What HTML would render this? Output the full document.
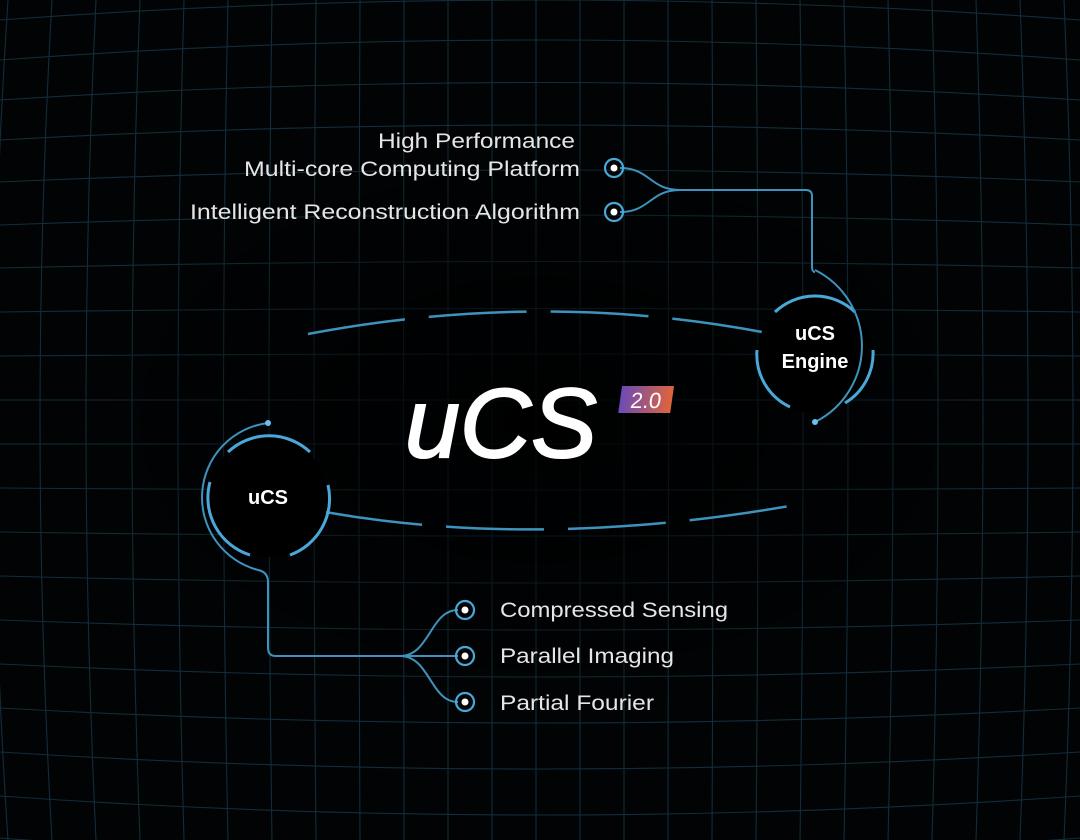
<!DOCTYPE html>
<html><head><meta charset="utf-8"><style>
html,body{margin:0;padding:0;background:#000;}
svg{display:block}
text{font-family:"Liberation Sans",sans-serif;}
</style></head><body>
<svg width="1080" height="840" viewBox="0 0 1080 840" xmlns="http://www.w3.org/2000/svg">
<defs>
<linearGradient id="bg" x1="0" x2="1"><stop offset="0" stop-color="#6b4bb8"/><stop offset="1" stop-color="#e0643a"/></linearGradient>
<radialGradient id="fade" cx="0.5" cy="0.5" r="0.5"><stop offset="0" stop-color="#000" stop-opacity="0.9"/><stop offset="0.6" stop-color="#000" stop-opacity="0.4"/><stop offset="1" stop-color="#000" stop-opacity="0"/></radialGradient>
</defs>
<rect width="1080" height="840" fill="#010305"/>
<g stroke="#1e4a5c" stroke-width="1.1" fill="none" opacity="0.6">
<path d="M0,20 Q540,-20 1080,20"/>
<path d="M0,60 Q540,20 1080,60"/>
<path d="M0,100 Q540,65 1080,100"/>
<path d="M0,140 Q540,110 1080,140"/>
<path d="M0,182 Q540,158 1080,182"/>
<path d="M0,225 Q540,205 1080,225"/>
<path d="M0,268 Q540,255 1080,268"/>
<path d="M0,312 Q540,305 1080,312"/>
<path d="M0,356 Q540,352 1080,356"/>
<path d="M0,400 L1080,400"/>
<path d="M0,444 L1080,444"/>
<path d="M0,488 Q540,492 1080,488"/>
<path d="M0,532 Q540,540 1080,532"/>
<path d="M0,576 Q540,590 1080,576"/>
<path d="M0,620 Q540,640 1080,620"/>
<path d="M0,664 Q540,690 1080,664"/>
<path d="M0,708 Q540,738 1080,708"/>
<path d="M0,752 Q540,786 1080,752"/>
<path d="M0,796 Q540,834 1080,796"/>
<path d="M0,838 Q540,880 1080,838"/>
<path d="M8,0 Q-20,420 8,840"/>
<path d="M52,0 Q28,420 52,840"/>
<path d="M96,0 Q76,420 96,840"/>
<path d="M140,0 Q124,420 140,840"/>
<path d="M184,0 Q172,420 184,840"/>
<path d="M228,0 Q219,420 228,840"/>
<path d="M272,0 Q266,420 272,840"/>
<path d="M316,0 Q312,420 316,840"/>
<path d="M360,0 Q358,420 360,840"/>
<path d="M404,0 Q403,420 404,840"/>
<path d="M448,0 L448,840"/>
<path d="M492,0 L492,840"/>
<path d="M536,0 L536,840"/>
<path d="M580,0 L580,840"/>
<path d="M624,0 L624,840"/>
<path d="M668,0 Q669,420 668,840"/>
<path d="M712,0 Q714,420 712,840"/>
<path d="M756,0 Q760,420 756,840"/>
<path d="M800,0 Q806,420 800,840"/>
<path d="M844,0 Q852,420 844,840"/>
<path d="M888,0 Q898,420 888,840"/>
<path d="M932,0 Q944,420 932,840"/>
<path d="M976,0 Q990,420 976,840"/>
<path d="M1020,0 Q1036,420 1020,840"/>
<path d="M1064,0 Q1082,420 1064,840"/>
</g>
<ellipse cx="540" cy="420" rx="480" ry="300" fill="url(#fade)"/>
<!-- ellipse arcs -->
<g fill="none" stroke="#3e93bd" stroke-width="2.5" stroke-dasharray="98 24">
<path d="M308,334 Q540,290 762,332"/>
<path d="M325,512 Q540,550 795,505"/>
</g>
<!-- Engine circle -->
<circle cx="815" cy="355" r="58" fill="#000"/>
<g fill="none" stroke="#4aa8d8" stroke-width="3">
<path d="M775,312 A58,58 0 0 1 855,312"/>
<path d="M757,350 A58,58 0 0 0 790,407"/>
<path d="M873,350 A58,58 0 0 1 845,403"/>
</g>
<path d="M815,270 A85,85 0 0 1 815,422" fill="none" stroke="#3e93bd" stroke-width="2"/>
<circle cx="815" cy="422" r="3" fill="#6cc0ea"/>
<path d="M815,272 Q812,272 812,266 L812,196 Q812,190 806,190 L680,190 C650,190 650,168 620,168 M680,190 C650,190 650,212 620,212" fill="none" stroke="#3e93bd" stroke-width="2"/>
<text x="815" y="340" fill="#fff" font-size="20" font-weight="bold" text-anchor="middle">uCS</text>
<text x="815" y="368" fill="#fff" font-size="20" font-weight="bold" text-anchor="middle">Engine</text>
<!-- uCS circle -->
<circle cx="268" cy="497" r="60" fill="#000"/>
<g fill="none" stroke="#4aa8d8" stroke-width="3">
<path d="M228,452 A60,60 0 0 1 310,452"/>
<path d="M210,482 A60,60 0 0 0 250,555"/>
<path d="M328,485 A60,60 0 0 1 290,555"/>
</g>
<path d="M268,423 A75,75 0 0 0 258,570" fill="none" stroke="#3e93bd" stroke-width="2"/>
<circle cx="268" cy="423" r="3" fill="#6cc0ea"/>
<path d="M258,570 Q268,572 268,582 L268,648 Q268,656 276,656 L400,656 C430,656 430,610 458,610 M400,656 L458,656 M400,656 C430,656 430,702 458,702" fill="none" stroke="#3e93bd" stroke-width="2"/>
<text x="268" y="504" fill="#fff" font-size="20" font-weight="bold" text-anchor="middle">uCS</text>
<!-- dots -->
<g fill="none" stroke="#4aa8d8" stroke-width="2.2">
<circle cx="614" cy="168" r="9"/><circle cx="614" cy="212" r="9"/>
<circle cx="465" cy="610" r="9"/><circle cx="465" cy="656" r="9"/><circle cx="465" cy="702" r="9"/>
</g>
<g fill="#fff">
<circle cx="614" cy="168" r="3.5"/><circle cx="614" cy="212" r="3.5"/>
<circle cx="465" cy="610" r="3.5"/><circle cx="465" cy="656" r="3.5"/><circle cx="465" cy="702" r="3.5"/>
</g>
<g fill="#e6e6e6" font-size="21">
<text x="378" y="148" textLength="197" lengthAdjust="spacingAndGlyphs">High Performance</text>
<text x="244" y="176" textLength="336" lengthAdjust="spacingAndGlyphs">Multi-core Computing Platform</text>
<text x="190" y="219" textLength="390" lengthAdjust="spacingAndGlyphs">Intelligent Reconstruction Algorithm</text>
<text x="500" y="617" textLength="228" lengthAdjust="spacingAndGlyphs">Compressed Sensing</text>
<text x="500" y="663" textLength="174" lengthAdjust="spacingAndGlyphs">Parallel Imaging</text>
<text x="500" y="710" textLength="154" lengthAdjust="spacingAndGlyphs">Partial Fourier</text>
</g>
<!-- logo -->
<text x="405" y="457" fill="#fff" stroke="#fff" stroke-width="2" font-size="98" font-style="italic" textLength="192" lengthAdjust="spacingAndGlyphs">uCS</text>
<g transform="translate(622,386) skewX(-8)">
<rect width="52" height="27" fill="url(#bg)"/>
<text x="26" y="22" fill="#fff" font-size="22" text-anchor="middle">2.0</text>
</g>
</svg>
</body></html>
